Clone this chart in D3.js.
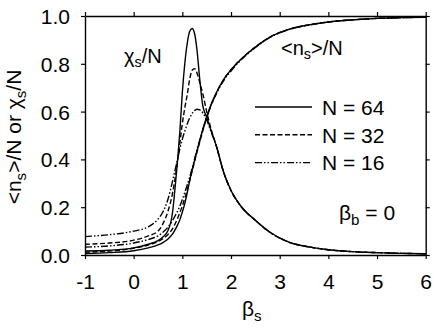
<!DOCTYPE html>
<html><head><meta charset="utf-8">
<script src="https://cdn.jsdelivr.net/npm/d3@7"></script>
<style>
html,body{margin:0;padding:0;background:#fff;}
text{font-family:"Liberation Sans",Arial,Helvetica,sans-serif;fill:#000;}
</style></head>
<body>
<svg id="c" width="443" height="332"></svg>
<script>
// ---- data ----
const xs = [-1, -0.5, 0, 0.3, 0.5, 0.6, 0.7, 0.8, 0.85, 0.9, 0.95, 1.0, 1.05, 1.1, 1.15, 1.2, 1.25, 1.3, 1.36, 1.42, 1.5, 1.6, 1.7, 1.85, 2.0, 2.2, 2.5, 2.8, 3.2, 3.6, 4.0, 4.5, 5.0, 5.5, 6.0];
const chi64 = [0.017,0.02,0.03,0.045,0.06,0.075,0.1,0.18,0.28,0.39,0.52,0.68,0.80,0.885,0.935,0.948,0.928,0.86,0.73,0.625,0.577,0.515,0.455,0.345,0.27,0.205,0.145,0.095,0.053,0.034,0.022,0.014,0.01,0.007,0.005];
const chi32 = [0.045,0.05,0.062,0.08,0.1,0.13,0.18,0.26,0.32,0.39,0.47,0.55,0.615,0.67,0.735,0.772,0.78,0.762,0.72,0.675,0.6,0.52,0.455,0.345,0.27,0.205,0.145,0.095,0.053,0.034,0.022,0.014,0.01,0.007,0.005];
const chi16 = [0.077,0.085,0.1,0.118,0.15,0.18,0.23,0.31,0.355,0.4,0.445,0.485,0.518,0.548,0.573,0.592,0.604,0.61,0.607,0.595,0.565,0.51,0.455,0.345,0.27,0.205,0.145,0.095,0.053,0.034,0.022,0.014,0.01,0.007,0.005];
const n64 = [0.006,0.01,0.018,0.03,0.042,0.052,0.066,0.088,0.105,0.125,0.148,0.18,0.215,0.26,0.31,0.355,0.395,0.435,0.48,0.525,0.578,0.635,0.68,0.735,0.775,0.818,0.87,0.912,0.945,0.963,0.975,0.984,0.99,0.993,0.995];
const n32 = [0.012,0.016,0.028,0.042,0.056,0.068,0.085,0.11,0.13,0.152,0.178,0.205,0.238,0.272,0.31,0.35,0.39,0.43,0.475,0.52,0.575,0.632,0.678,0.735,0.775,0.818,0.87,0.912,0.945,0.963,0.975,0.984,0.99,0.993,0.995];
const n16 = [0.033,0.038,0.05,0.065,0.08,0.095,0.115,0.145,0.163,0.183,0.205,0.232,0.262,0.293,0.325,0.362,0.4,0.44,0.482,0.525,0.575,0.63,0.675,0.73,0.77,0.815,0.868,0.91,0.944,0.962,0.975,0.984,0.99,0.993,0.995];
const xTicks = [-1,0,1,2,3,4,5,6];
const yTicks = [0,0.2,0.4,0.6,0.8,1.0];
const legendLabels = ["N = 64","N = 32","N = 16"];

// ---- layout ----
const svg = d3.select("#c");
const L = 85, R = 425.7, T = 16, B = 255;
const x = d3.scaleLinear().domain([-1,6]).range([L,R]);
const y = d3.scaleLinear().domain([0,1]).range([B,T]);
const FS = 21;
const styles = ["none","5,2.5","7,2,1.5,2,1.5,2"];

const line = d3.line().x((d,i)=>x(xs[i])).y(d=>y(d)).curve(d3.curveMonotoneX);
const series = [
  {v:n64, s:0},{v:n32, s:1},{v:n16, s:2},
  {v:chi16, s:2},{v:chi32, s:1},{v:chi64, s:0}
];
const g = svg.append("g");
series.forEach(sr=>{
  g.append("path").attr("d", line(sr.v)).attr("fill","none")
   .attr("stroke","#000").attr("stroke-width",1.4)
   .attr("stroke-dasharray", styles[sr.s]);
});

// axes
const ax = (gen, tr) => {
  const a = svg.append("g").attr("transform", tr).call(gen);
  a.select(".domain").attr("stroke","#000").attr("stroke-width",1.4);
  a.selectAll(".tick line").attr("stroke","#000").attr("stroke-width",1.2);
  return a;
};
const bx = ax(d3.axisBottom(x).tickValues(xTicks).tickSize(4).tickSizeOuter(0).tickPadding(15).tickFormat(d=>String(d)), `translate(0,${B})`);
bx.selectAll("text").attr("font-size",FS).attr("font-family","Liberation Sans, Arial, sans-serif");
ax(d3.axisTop(x).tickValues(xTicks).tickSize(4).tickSizeOuter(0).tickFormat(""), `translate(0,${T})`);
const ly = ax(d3.axisLeft(y).tickValues(yTicks).tickSize(4).tickSizeOuter(0).tickPadding(11).tickFormat(d3.format(".1f")), `translate(${L},0)`);
ly.selectAll("text").attr("font-size",FS).attr("font-family","Liberation Sans, Arial, sans-serif").attr("dy","0.36em");
ax(d3.axisRight(y).tickValues(yTicks).tickSize(4).tickSizeOuter(0).tickFormat(""), `translate(${R},0)`);

// helper for text with subscripts
function rich(parent, parts, fs){
  const t = parent.append("text").attr("font-size", fs);
  parts.forEach(p=>{
    if(p[1]){
      t.append("tspan").attr("font-size", fs*0.72).attr("dy", fs*0.22).text(p[0]);
    } else {
      const ts = t.append("tspan").text(p[0]);
      if(p[2]) ts.attr("dy", -fs*0.22);
    }
  });
  return t;
}
// axis titles
rich(svg, [["β"],["s",1]], FS).attr("x", 242).attr("y", 316);
rich(svg.append("g").attr("transform","translate(21,137) rotate(-90)"),
  [["<n"],["s",1],[">/N or χ",0,1],["s",1],["/N",0,1]], FS).attr("text-anchor","middle");

// annotations
rich(svg, [["χ"],["s",1],["/N",0,1]], 20).attr("x",124).attr("y",63);
rich(svg, [["<n"],["s",1],[">/N",0,1]], 20).attr("x",281).attr("y",55);
rich(svg, [["β"],["b",1],[" = 0",0,1]], 21).attr("x",339).attr("y",220);

// legend
legendLabels.forEach((lab,i)=>{
  const yy = 107 + i*27.8;
  svg.append("line").attr("x1",255).attr("x2",312).attr("y1",yy).attr("y2",yy)
    .attr("stroke","#000").attr("stroke-width",1.4).attr("stroke-dasharray",styles[i]);
  svg.append("text").attr("x",322).attr("y",yy+7.8).attr("font-size",FS).text(lab);
});
</script>
</body></html>
